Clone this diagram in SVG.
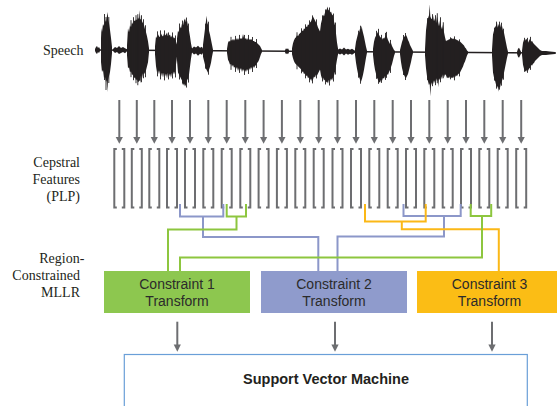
<svg xmlns="http://www.w3.org/2000/svg" xmlns:xlink="http://www.w3.org/1999/xlink" width="557" height="406" viewBox="0 0 557 406">
<style>
.lbl{font-family:"Liberation Serif","Times New Roman",serif;font-size:14px;fill:#231f20;text-anchor:end}
.btx{font-family:"Liberation Sans",Arial,sans-serif;font-size:14px;fill:#2b2b2b;text-anchor:middle}
.svm{font-family:"Liberation Sans",Arial,sans-serif;font-size:14.5px;font-weight:bold;fill:#231f20;text-anchor:middle}
.fr{fill:none;stroke:#6d6e71;stroke-width:2}
.al{stroke:#6d6e71;stroke-width:2}
.ah{fill:#6d6e71}
.wv path{fill:#231f20}
.wv path.sp{fill:none;stroke:#231f20;stroke-width:0.9}
.c{fill:none;stroke-width:2}
.g{stroke:#8dc63f}
.b{stroke:#8c97c9}
.o{stroke:#fbb817}
</style>
<defs>
<path id="fr" class="fr" d="M-2.5,149 H-5 V207.5 H-2.5 M2.5,149 H5 V207.5 H2.5"/>
<g id="ar"><line class="al" x1="0" y1="100" x2="0" y2="137.5"/><path class="ah" d="M-3.6,137 L0,143.8 L3.6,137 Z"/></g>
<g id="ar2"><line class="al" x1="0" y1="321.7" x2="0" y2="345"/><path class="ah" d="M-3.6,344.5 L0,351.8 L3.6,344.5 Z"/></g>
</defs>

<g id="speech">
<text class="lbl" x="83.5" y="54.5">Speech</text>
<g class="wv" transform="matrix(1 0.0067 0 1 0 49.3)">
<path d="M96,-0.8 H556 V0.8 H96 Z"/>
<path d="M95,-1 L96,-3 97,-4 98,-2 99,-3 100,-1 L100,1 99,3 98,2 97,4 96,3 95,1 Z"/>
<path d="M101,-12 L101.5,-22 102,-18 103,-26 104,-24 105,-30 106,-28 107,-34 107.7,-38 108.3,-30 109,-27 110,-20 111,-12 112,-3 L112,3 111,14 110,22 109,26 108,30 107.3,42 106.7,30 106,32 105,27 104,28 103,20 102,22 101,12 Z"/>
<path d="M113,-1 L115,-3 117,-2 119,-4 121,-2 123,-3 125,-2 127,-1 L127,1 125,3 123,2 121,3 119,4 117,2 115,3 113,1 Z"/>
<path d="M127,-5 L128,-22 129,-18 130,-25 131,-23 132,-28 133,-26 134,-30 135,-29 136,-31 137,-30 138,-33 139,-31 139.7,-40 140.3,-31 141,-31 142,-29 143,-27 144,-25 145,-21 146,-18 147,-14 148,-9 149,-2 L149,2 148,12 147,16 146,20 145,22 144,24 143,23 142,28 141,25 140.5,33 140,30 139,31 138,32 137,29 136,30 135,27 134,28 133,24 132,25 131,21 130,22 129,17 128,18 127,5 Z"/>
<path d="M155,-4 L156,-14 157,-12 158,-16 159,-14 160,-13 161,-17 162,-15 163,-14 164,-17 165,-15 166,-16 167,-18 168,-14 169,-15 170,-16 171,-13 172,-15 173,-14 174,-12 175,-13 176,-9 177,-6 L177,6 176,14 175,24 174,21 173,24 172,22 171,27 170,23 169,26 168,22 167,28 166,23 165,26 164,22 163,27 162,22 161,26 160,20 159,24 158,20 157,22 156,16 155,4 Z"/>
<path d="M177,-12 L178,-20 179,-18 180,-24 181,-22 182,-27 183,-25 184,-30 185,-32 186,-28 187,-30 188,-24 189,-20 190,-14 191,-7 192,-2 L192,2 191,8 190,16 189,24 188,28 187,30 186,34 185,36 184,33 183,35 182,30 181,28 180,26 179,24 178,22 177,10 Z"/>
<path d="M192,-2 L194,-4 196,-3 198,-5 200,-3 202,-4 203,-2 L203,2 202,4 200,3 198,5 196,3 194,4 192,2 Z"/>
<path d="M203,-6 L204,-14 205,-22 206,-30 206.7,-35 207.3,-28 208,-26 209,-20 210,-16 211,-11 212,-6 213,-1 L213,1 212,6 211,12 210,16 209,19 208,22 207,20 206,18 205,14 204,10 203,6 Z"/>
<path d="M227,-2 L228,-8 229,-10 230,-9 231,-11 232,-10 233,-12 234,-10 235,-12 236,-11 237,-13 238,-11 239,-13 240,-12 241,-13 242,-12 243,-17 244,-13 245,-12 246,-13 247,-11 248,-13 249,-12 250,-11 251,-12 252,-11 253,-10 254,-10 255,-9 256,-9 257,-8 258,-7 259,-6 260,-5 261,-3 262,-1 L262,1 261,3 260,6 259,9 258,11 257,12 256,14 255,15 254,17 253,15 252,18 251,16 250,19 249,17 248,20 247,18 246,21 245,19 244,20 243,18 242,21 241,17 240,19 239,17 238,20 237,16 236,18 235,16 234,17 233,14 232,16 231,13 230,14 229,11 228,9 227,2 Z"/>
<path d="M285,-1 L286,-3 287,-2 288,-3 289,-1 L289,1 288,3 287,2 286,3 285,1 Z"/>
<path d="M292,-3 L293,-8 294,-11 295,-13 296,-14 297,-16 298,-15 299,-17 300,-18 301,-19 302,-21 303,-20 304,-23 305,-22 306,-25 307,-24 308,-27 309,-26 310,-29 311,-30 312,-33 313,-35 314,-33 315,-31 316,-29 317,-27 318,-24 319,-22 320,-20 L320,18 319,20 318,22 317,24 316,23 315,26 314,25 313,28 312,30 311,27 310,29 309,26 308,27 307,24 306,25 305,22 304,23 303,20 302,21 301,18 300,17 299,16 298,15 297,14 296,13 295,12 294,10 293,7 292,3 Z"/>
<path d="M320,-20 L321,-28 322,-32 323,-37 324,-35 325,-39 326,-41 327,-43 327.7,-45 328.3,-41 329,-42 330,-39 331,-40 332,-37 333,-36 334,-30 335,-26 336,-18 337,-9 338,-3 L338,3 337,8 336,14 335,20 334,24 333,26 332,29 331,27 330,30 329,28 328,32 327,30 326,31 325,28 324,29 323,26 322,27 321,24 320,18 Z"/>
<path d="M338,-2 L340,-3 342,-2 344,-4 346,-2 348,-3 350,-2 352,-3 355,-1 L355,1 352,3 350,2 348,3 346,2 344,4 342,2 340,3 338,2 Z"/>
<path d="M355,-3 L356,-10 357,-14 358,-18 359,-19 360,-23 361,-22 361.7,-26 362.3,-22 363,-19 364,-15 365,-10 366,-5 367,-1 L367,1 366,6 365,12 364,18 363,23 362,27 361,30 360,28 359,25 358,22 357,17 356,11 355,3 Z"/>
<path d="M373,-3 L374,-10 375,-14 376,-16 377,-18 378,-20 379,-17 380,-15 381,-14 382,-12 383,-14 384,-13 385,-15 386,-17 387,-15 388,-12 389,-10 390,-8 391,-9 392,-6 393,-4 394,-2 395,-1 L395,1 394,4 393,8 392,12 391,15 390,18 389,20 388,23 387,22 386,25 385,24 384,27 383,26 382,29 381,28 380,31 379,30 378,28 377,26 376,22 375,18 374,12 373,3 Z"/>
<path d="M400,-2 L401,-6 402,-10 403,-13 404,-15 405,-16 406,-17 407,-15 408,-12 409,-10 410,-7 411,-5 412,-3 413,-1 L413,1 412,5 411,10 410,14 409,18 408,22 407,24 406,26 405,25 404,23 403,20 402,16 401,10 400,2 Z"/>
<path d="M425,-3 L426,-22 427,-30 428,-34 429,-37 429.7,-48 430.3,-36 431,-34 432,-33 433,-37 434,-31 435,-34 436,-29 437,-36 438,-31 439,-26 440,-32 441,-26 442,-23 443,-28 444,-20 445,-15 L445,22 444,25 443,22 442,27 441,24 440,28 439,26 438.3,35 437.7,27 437,29 436,26 435,31 434,28 433,32 432,30 431,33 430.3,44 429.7,31 429,33 428,29 427,24 426,16 425,3 Z"/>
<path d="M445,-15 L446,-11 447,-12 448,-12 449,-13 450,-13 451,-14 452,-14 453,-13 454,-14 455,-13 456,-13 457,-12 458,-12 459,-11 460,-11 461,-10 462,-9 463,-8 464,-7 465,-5 466,-4 467,-2 468,-1 L468,1 467,3 466,6 465,9 464,11 463,14 462,16 461,18 460,20 459,21 458,22 457,24 456,23 455,25 454,24 453,26 452,25 451,26 450,24 449,26 448,25 447,26 446,23 445,22 Z"/>
<path d="M492,-3 L493,-18 494,-22 495,-25 496,-27 497,-30 497.7,-25 498.3,-29 499,-26 500,-29 501,-25 502,-27 503,-22 504,-20 505,-15 506,-10 507,-5 508,-1 L508,1 507,5 506,10 505,15 504,20 503,25 502,28 501,30 500,35 499,34 498.3,39 497.7,33 497,35 496,32 495,28 494,25 493,20 492,3 Z"/>
<path d="M517,-1 L518,-4 519,-5 520,-3 521,-1 L521,1 520,3 519,5 518,4 517,1 Z"/>
<path d="M522,-2 L523,-10 524,-13 525,-12 526,-14 527,-13 528,-10 529,-12 530,-14 531,-11 532,-12 533,-10 534,-9 535,-8 536,-7 537,-6 538,-5 539,-4 540,-3 542,-2 L542,2 540,3 539,4 538,5 537,6 536,7 535,8 534,10 533,11 532,13 531,12 530,15 529,16 528,18 527,17 526,19 525,18 524,16 523,12 522,2 Z"/>
<path d="M542,-2 L546,-2 550,-1.5 555,-1 L555,1 550,1.5 546,2 542,2 Z"/>
<path class="sp" d="M104.5,-36 V30 M106,-33 V40 M108.8,-33 V33 M131,-30 V27 M133.5,-33 V30 M136,-35 V33 M137.8,-36 V35 M141.5,-35 V32 M143.5,-31 V28 M145.5,-25 V27 M157.5,-19 V26 M160.5,-20 V29 M164.5,-20 V30 M168.5,-18 V29 M172.5,-18 V28 M175.5,-15 V27 M179.5,-27 V29 M182.5,-30 V33 M186.5,-33 V37 M188.5,-27 V32 M205.5,-27 V18 M208.5,-29 V24 M231,-14 V19 M235.5,-15 V21 M239.5,-16 V22 M244.5,-16 V24 M248.5,-16 V23 M252.5,-14 V21 M256.5,-12 V17 M297,-19 V18 M301.5,-23 V22 M305.5,-27 V27 M309.5,-31 V31 M312.5,-36 V32 M316.5,-32 V27 M322.5,-36 V30 M325.5,-42 V33 M329.5,-44 V34 M333.5,-38 V30 M335.5,-29 V23 M358.5,-21 V26 M360.5,-26 V32 M376.5,-21 V27 M378.5,-23 V32 M381.5,-17 V31 M385.5,-19 V28 M386.5,-20 V26 M390.5,-12 V21 M403.5,-17 V23 M405.5,-19 V28 M427.5,-34 V28 M432.5,-38 V34 M435.5,-37 V33 M437.3,-39 V31 M440.5,-35 V30 M443.3,-30 V26 M450.5,-15 V27 M454.5,-16 V28 M459.5,-13 V24 M494.5,-25 V28 M496.5,-31 V36 M499.5,-31 V37 M501.5,-30 V33 M503.5,-24 V27 M524.5,-15 V19 M527.5,-15 V20 M530.5,-16 V17"/>
</g>
</g>

<g id="features">
<text class="lbl" x="80" y="167">Cepstral</text>
<text class="lbl" x="80" y="184">Features</text>
<text class="lbl" x="80" y="200.5">(PLP)</text>
<use href="#fr" x="119.3"/><use href="#fr" x="136.8"/><use href="#fr" x="154.3"/><use href="#fr" x="172"/>
<use href="#fr" x="190"/><use href="#fr" x="208.3"/><use href="#fr" x="226.7"/><use href="#fr" x="245.3"/>
<use href="#fr" x="263.6"/><use href="#fr" x="281.9"/><use href="#fr" x="300.3"/><use href="#fr" x="318.7"/>
<use href="#fr" x="337.5"/><use href="#fr" x="356"/><use href="#fr" x="374.3"/><use href="#fr" x="392.7"/>
<use href="#fr" x="411"/><use href="#fr" x="429.3"/><use href="#fr" x="447.7"/><use href="#fr" x="466"/>
<use href="#fr" x="484.3"/><use href="#fr" x="502.7"/><use href="#fr" x="521.2"/>
</g>

<g id="mllr-label">
<text class="lbl" x="84.3" y="262.5">Region-</text>
<text class="lbl" x="80" y="279.5">Constrained</text>
<text class="lbl" x="80" y="296.5">MLLR</text>
</g>

<g id="connectors">
<g id="speech-to-features">
<use href="#ar" x="119.3"/><use href="#ar" x="136.8"/><use href="#ar" x="154.3"/><use href="#ar" x="172"/>
<use href="#ar" x="190"/><use href="#ar" x="208.3"/><use href="#ar" x="226.7"/><use href="#ar" x="245.3"/>
<use href="#ar" x="263.6"/><use href="#ar" x="281.9"/><use href="#ar" x="300.3"/><use href="#ar" x="318.7"/>
<use href="#ar" x="337.5"/><use href="#ar" x="356"/><use href="#ar" x="374.3"/><use href="#ar" x="392.7"/>
<use href="#ar" x="411"/><use href="#ar" x="429.3"/><use href="#ar" x="447.7"/><use href="#ar" x="466"/>
<use href="#ar" x="484.3"/><use href="#ar" x="502.7"/><use href="#ar" x="521.2"/>
</g>
<path class="c b" d="M180,204 V216.5 H223.3 V204 M203,216.5 V237 H318.3 V271"/>
<path class="c b" d="M403.5,204 V216 H460.7 V204 M444,216 V236.5 H337.5 V271"/>
<path class="c o" d="M365,204 V221.5 H425.7 V204 M401.8,221.5 V229.3 H498.8 V271"/>
<path class="c g" d="M226.7,204 V216.5 H246 V204 M236.5,216.5 V229.5 H168 V271"/>
<path class="c g" d="M470.7,204 V216 H491.2 V204 M482,216 V257.5 H180 V271"/>
<g id="transforms-to-svm">
<use href="#ar2" x="177.3"/><use href="#ar2" x="335"/><use href="#ar2" x="492"/>
</g>
</g>

<g id="constraint1">
<rect x="104" y="271" width="146" height="42" fill="#8dc74f"/>
<text class="btx" x="177" y="289.3">Constraint 1</text>
<text class="btx" x="177" y="305.8">Transform</text>
</g>
<g id="constraint2">
<rect x="261" y="271" width="146" height="42" fill="#8f9bcc"/>
<text class="btx" x="334" y="289.3">Constraint 2</text>
<text class="btx" x="334" y="305.8">Transform</text>
</g>
<g id="constraint3">
<rect x="417" y="271" width="146" height="42" fill="#fbbd15"/>
<text class="btx" x="489.5" y="289.3">Constraint 3</text>
<text class="btx" x="489.5" y="305.8">Transform</text>
</g>

<g id="svm">
<rect x="124.3" y="354.5" width="403" height="70" fill="#ffffff" stroke="#6a9fd8" stroke-width="1.2"/>
<text class="svm" x="326" y="384">Support Vector Machine</text>
</g>
</svg>
